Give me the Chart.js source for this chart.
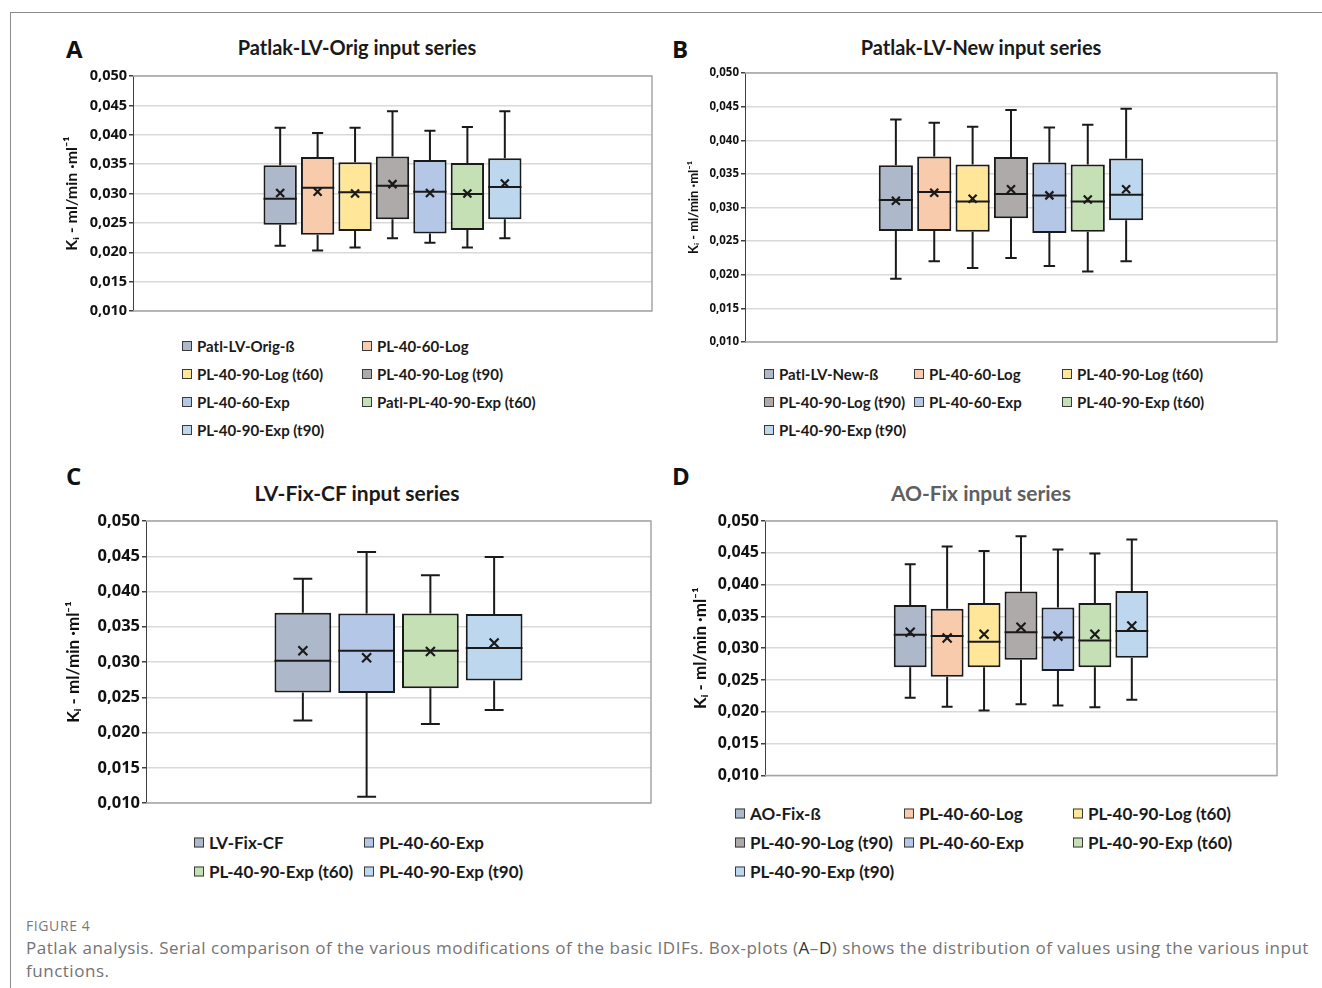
<!DOCTYPE html>
<html>
<head>
<meta charset="utf-8">
<script src="https://cdn.jsdelivr.net/npm/chart.js@4.4.0/dist/chart.umd.min.js"></script>
<style>
body { margin: 0; background: #fff; width: 1322px; height: 988px; position: relative; overflow: hidden; font-family: Lato, 'Open Sans', sans-serif; }
.frame { position: absolute; left: 10px; top: 12px; width: 1320px; height: 990px; border-top: 1px solid #8c8c8c; border-left: 1px solid #8c8c8c; }
canvas { position: absolute; }
.letter { position: absolute; font: bold 24px 'Open Sans', sans-serif; color: #111; transform: translateY(-50%); }
.title { position: absolute; font-weight: bold; white-space: nowrap; color: #1a1a1a; transform: translate(-50%, -50%); }
.leg { position: absolute; font-weight: bold; white-space: nowrap; color: #1a1a1a; transform: translateY(-50%); display: flex; align-items: center; }
.leg i { display: inline-block; width: 8px; height: 8px; border: 1.5px solid #3a3a3a; margin-right: 5px; }
.cap1 { position: absolute; left: 26px; top: 916px; font: 14px 'Open Sans', sans-serif; color: #7a7a7a; letter-spacing: 0.6px; }
.cap2 { position: absolute; left: 26px; top: 936px; font: 17px/23px 'Open Sans', sans-serif; color: #737373; letter-spacing: 0.52px; white-space: nowrap; }
.cap2 b { font-weight: normal; color: #333; }
</style>
</head>
<body>
<div class="frame"></div>

<div class="letter" style="left:66px;top:48px">A</div>
<div class="letter" style="left:672px;top:48px">B</div>
<div class="letter" style="left:66px;top:475px">C</div>
<div class="letter" style="left:672px;top:475px">D</div>

<div class="title" style="left:357px;top:47px;font-size:20px">Patlak-LV-Orig input series</div>
<div class="title" style="left:981px;top:47px;font-size:20px">Patlak-LV-New input series</div>
<div class="title" style="left:357px;top:492px;font-size:21px">LV-Fix-CF input series</div>
<div class="title" style="left:981px;top:492px;font-size:21px;color:#5f5f5f">AO-Fix input series</div>

<canvas id="chartA" width="605" height="260" style="left:55px;top:62px"></canvas>
<canvas id="chartB" width="605" height="292" style="left:680px;top:60px"></canvas>
<canvas id="chartC" width="604" height="307" style="left:55px;top:508px"></canvas>
<canvas id="chartD" width="605" height="279" style="left:680px;top:508px"></canvas>

<div id="legends"></div>

<div class="cap1">FIGURE 4</div>
<div class="cap2">Patlak analysis. Serial comparison of the various modifications of the basic IDIFs. Box-plots (<b>A</b>–<b>D</b>) shows the distribution of values using the various input<br>functions.</div>

<script>
var yTicks = [0.010, 0.015, 0.020, 0.025, 0.030, 0.035, 0.040, 0.045, 0.050];

// Panel A - Patlak-LV-Orig
var labelsA = ['Patl-LV-Orig-ß', 'PL-40-60-Log', 'PL-40-90-Log (t60)', 'PL-40-90-Log (t90)', 'PL-40-60-Exp', 'Patl-PL-40-90-Exp (t60)', 'PL-40-90-Exp (t90)'];
var lowA  = [0.0211, 0.0203, 0.0208, 0.0224, 0.0216, 0.0208, 0.0224];
var q1A   = [0.0247, 0.0230, 0.0236, 0.0256, 0.0232, 0.0238, 0.0256];
var medA  = [0.0291, 0.0310, 0.0302, 0.0313, 0.0303, 0.0299, 0.0311];
var q3A   = [0.0348, 0.0362, 0.0353, 0.0363, 0.0357, 0.0352, 0.0360];
var highA = [0.0412, 0.0403, 0.0412, 0.0440, 0.0407, 0.0413, 0.0440];
var meanA = [0.0301, 0.0303, 0.0300, 0.0316, 0.0301, 0.0300, 0.0317];

// Panel B - Patlak-LV-New
var labelsB = ['Patl-LV-New-ß', 'PL-40-60-Log', 'PL-40-90-Log (t60)', 'PL-40-90-Log (t90)', 'PL-40-60-Exp', 'PL-40-90-Exp (t60)', 'PL-40-90-Exp (t90)'];
var lowB  = [0.0194, 0.0220, 0.0210, 0.0225, 0.0213, 0.0205, 0.0220];
var q1B   = [0.0265, 0.0265, 0.0264, 0.0284, 0.0262, 0.0264, 0.0281];
var medB  = [0.0311, 0.0323, 0.0309, 0.0320, 0.0318, 0.0309, 0.0319];
var q3B   = [0.0363, 0.0376, 0.0364, 0.0375, 0.0367, 0.0364, 0.0373];
var highB = [0.0431, 0.0426, 0.0420, 0.0445, 0.0419, 0.0423, 0.0447];
var meanB = [0.0310, 0.0322, 0.0313, 0.0327, 0.0318, 0.0312, 0.0327];

// Panel C - LV-Fix-CF
var labelsC = ['LV-Fix-CF', 'PL-40-60-Exp', 'PL-40-90-Exp (t60)', 'PL-40-90-Exp (t90)'];
var lowC  = [0.0217, 0.0109, 0.0212, 0.0232];
var q1C   = [0.0257, 0.0256, 0.0263, 0.0274];
var medC  = [0.0302, 0.0316, 0.0316, 0.0320];
var q3C   = [0.0370, 0.0369, 0.0369, 0.0368];
var highC = [0.0418, 0.0456, 0.0423, 0.0449];
var meanC = [0.0316, 0.0306, 0.0315, 0.0327];

// Panel D - AO-Fix
var labelsD = ['AO-Fix-ß', 'PL-40-60-Log', 'PL-40-90-Log (t60)', 'PL-40-90-Log (t90)', 'PL-40-60-Exp', 'PL-40-90-Exp (t60)', 'PL-40-90-Exp (t90)'];
var lowD  = [0.0222, 0.0208, 0.0202, 0.0212, 0.0210, 0.0207, 0.0219];
var q1D   = [0.0270, 0.0255, 0.0270, 0.0282, 0.0264, 0.0270, 0.0285];
var medD  = [0.0321, 0.0319, 0.0310, 0.0325, 0.0317, 0.0312, 0.0327];
var q3D   = [0.0368, 0.0362, 0.0371, 0.0389, 0.0364, 0.0371, 0.0390];
var highD = [0.0432, 0.0460, 0.0453, 0.0476, 0.0455, 0.0449, 0.0471];
var meanD = [0.0325, 0.0316, 0.0322, 0.0333, 0.0319, 0.0322, 0.0335];

var colorsFull = ['#adb9ca', '#f8cbad', '#ffe699', '#aeaaaa', '#b4c7e7', '#c5e0b4', '#bdd7ee'];
var colorsC = ['#adb9ca', '#b4c7e7', '#c5e0b4', '#bdd7ee'];

var ink = '#1a1a1a';

// gray frame around the plot area (top, right, bottom)
var framePlugin = {
    id: 'plotFrame',
    beforeDatasetsDraw: function(chart) {
        var a = chart.chartArea, c = chart.ctx;
        c.save();
        c.strokeStyle = '#a6a6a6';
        c.lineWidth = 1.5;
        c.beginPath();
        c.moveTo(a.left, a.top); c.lineTo(a.right, a.top);
        c.lineTo(a.right, a.bottom); c.lineTo(a.left, a.bottom);
        c.stroke();
        c.restore();
    }
};

// whiskers, median line and mean cross on top of the floating bars
var boxPlugin = {
    id: 'boxExtras',
    afterDatasetsDraw: function(chart, args, opts) {
        var y = chart.scales.y, c = chart.ctx;
        chart.data.datasets.forEach(function(ds, i) {
            var bar = chart.getDatasetMeta(i).data[0];
            var x = bar.x, w = bar.width, cap = w / 3;
            var pLo = y.getPixelForValue(opts.low[i]);
            var pQ1 = y.getPixelForValue(opts.q1[i]);
            var pMed = y.getPixelForValue(opts.med[i]);
            var pQ3 = y.getPixelForValue(opts.q3[i]);
            var pHi = y.getPixelForValue(opts.high[i]);
            var pMean = y.getPixelForValue(opts.mean[i]);
            var m = opts.cross;
            c.save();
            c.strokeStyle = ink;
            c.lineWidth = 2;
            c.beginPath();
            c.moveTo(x, pQ3); c.lineTo(x, pHi);
            c.moveTo(x, pQ1); c.lineTo(x, pLo);
            c.moveTo(x - cap / 2, pHi); c.lineTo(x + cap / 2, pHi);
            c.moveTo(x - cap / 2, pLo); c.lineTo(x + cap / 2, pLo);
            c.moveTo(x - w / 2, pMed); c.lineTo(x + w / 2, pMed);
            c.stroke();
            c.lineWidth = 2.2;
            c.beginPath();
            c.moveTo(x - m, pMean - m); c.lineTo(x + m, pMean + m);
            c.moveTo(x + m, pMean - m); c.lineTo(x - m, pMean + m);
            c.stroke();
            c.restore();
        });
    }
};

function makeChart(id, labels, colors, st, cfg) {
    var datasets = labels.map(function(l, i) {
        return {
            label: l,
            data: [[st.q1[i], st.q3[i]]],
            backgroundColor: colors[i],
            borderColor: ink,
            borderWidth: 2,
            borderSkipped: false,
            categoryPercentage: 0.505,
            barPercentage: 0.89
        };
    });
    new Chart(document.getElementById(id), {
        type: 'bar',
        data: { labels: [''], datasets: datasets },
        options: {
            responsive: false,
            animation: false,
            events: [],
            layout: { padding: { top: cfg.pad[0], right: cfg.pad[1], bottom: cfg.pad[2], left: 0 } },
            plugins: {
                legend: { display: false },
                tooltip: { enabled: false },
                boxExtras: { low: st.low, q1: st.q1, med: st.med, q3: st.q3, high: st.high, mean: st.mean, cross: cfg.cross }
            },
            scales: {
                x: { display: false },
                y: {
                    min: 0.010,
                    max: 0.050,
                    afterFit: function(s) { s.width = cfg.axisW; },
                    afterBuildTicks: function(s) { s.ticks = yTicks.map(function(v) { return { value: v }; }); },
                    ticks: {
                        callback: function(v) { return v.toFixed(3).replace('.', ','); },
                        font: { family: "'Open Sans', Lato, sans-serif", weight: 'bold', size: cfg.tick },
                        color: '#111',
                        padding: 2
                    },
                    grid: { color: '#d9d9d9', lineWidth: 1.5, tickLength: 4, tickColor: '#404040' },
                    border: { color: '#404040', width: 1 },
                    title: {
                        display: true,
                        text: 'Kᵢ - ml/min ·ml⁻¹',
                        color: '#111',
                        font: { family: 'Lato', weight: 'bold', size: cfg.ttl },
                        padding: { top: cfg.tpad, bottom: 0 }
                    }
                }
            }
        },
        plugins: [framePlugin, boxPlugin]
    });
}

makeChart('chartA', labelsA, colorsFull,
    { low: lowA, q1: q1A, med: medA, q3: q3A, high: highA, mean: meanA },
    { pad: [14, 8, 11], axisW: 78, tick: 14.5, ttl: 16, tpad: 7, cross: 4 });
makeChart('chartB', labelsB, colorsFull,
    { low: lowB, q1: q1B, med: medB, q3: q3B, high: highB, mean: meanB },
    { pad: [13, 8, 10], axisW: 65, tick: 11.5, ttl: 13, tpad: 6, cross: 4 });
makeChart('chartC', labelsC, colorsC,
    { low: lowC, q1: q1C, med: medC, q3: q3C, high: highC, mean: meanC },
    { pad: [13, 8, 10], axisW: 91, tick: 16.5, ttl: 17, tpad: 8, cross: 4.5 });
makeChart('chartD', labelsD, colorsFull,
    { low: lowD, q1: q1D, med: medD, q3: q3D, high: highD, mean: meanD },
    { pad: [13, 8, 10], axisW: 85, tick: 16, ttl: 17, tpad: 10, cross: 4.5 });

// legends laid out in a grid, like the spreadsheet original
function makeLegend(labels, colors, cols, rows, size) {
    var box = document.getElementById('legends');
    labels.forEach(function(l, i) {
        var d = document.createElement('div');
        d.className = 'leg';
        d.style.left = cols[i % cols.length] + 'px';
        d.style.top = rows[Math.floor(i / cols.length)] + 'px';
        d.style.fontSize = size + 'px';
        var sw = document.createElement('i');
        sw.style.background = colors[i];
        d.appendChild(sw);
        d.appendChild(document.createTextNode(l));
        box.appendChild(d);
    });
}
makeLegend(labelsA, colorsFull, [182, 362], [346, 374, 402, 430], 15);
makeLegend(labelsB, colorsFull, [764, 914, 1062], [374, 402, 430], 15);
makeLegend(labelsC, colorsC, [194, 364], [842, 871], 17);
makeLegend(labelsD, colorsFull, [735, 904, 1073], [813, 842, 871], 17);
</script>
</body>
</html>
